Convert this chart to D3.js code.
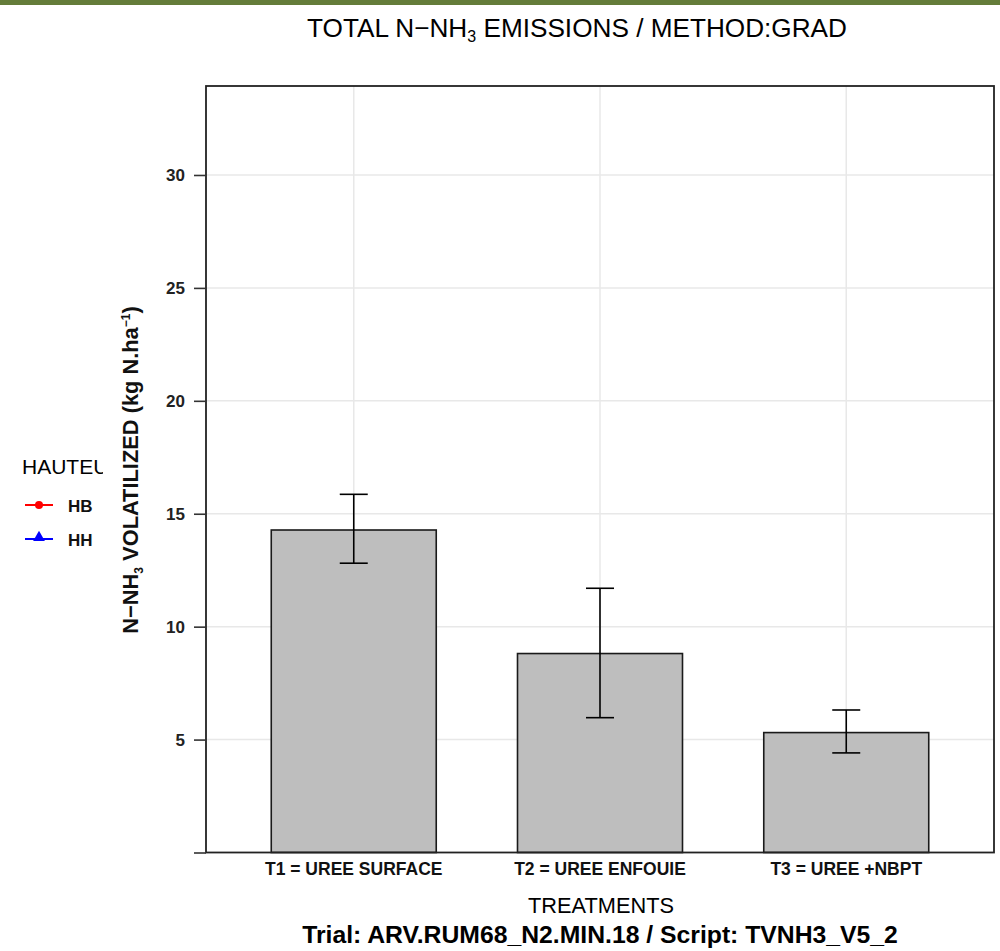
<!DOCTYPE html>
<html>
<head>
<meta charset="utf-8">
<script src="https://cdn.jsdelivr.net/npm/d3@7"></script>
<style>
  body { margin: 0; background: #fff; }
  svg { display: block; font-family: "Liberation Sans", Arial, sans-serif; }
</style>
</head>
<body>
<svg id="chart" width="1000" height="951"></svg>
<script>
// data
const treatments = ['T1 = UREE SURFACE', 'T2 = UREE ENFOUIE', 'T3 = UREE +NBPT'];
const totals = [14.28, 8.81, 5.31];
const errLow = [12.81, 5.97, 4.41];
const errHigh = [15.86, 11.70, 6.31];
const yTicks = [0, 5, 10, 15, 20, 25, 30];
const legendKeys = ['HB', 'HH'];
const legendColors = ['#ff0000', '#0000ff'];

const svg = d3.select('#chart');
const W = 1000, H = 951;
const panel = { left: 206, right: 994, top: 86, bottom: 852.5 };
const narrow = '"Liberation Sans Narrow", "Arial Narrow", "Liberation Sans", sans-serif';

// shrink/grow a text so it spans the wanted width
function fitText(sel, width) {
    const fs = parseFloat(sel.style('font-size'));
    const w = sel.node().getComputedTextLength();
    sel.style('font-size', (fs * width / w) + 'px');
}

// green strip on top
svg.append('rect').attr('x', 0).attr('y', 0).attr('width', W).attr('height', 5)
    .attr('fill', '#647c3a');

// scales
const x = d3.scalePoint().domain(treatments).range([panel.left, panel.right]).padding(0.6);
const y = d3.scaleLinear().domain([0, 33.94]).range([panel.bottom, panel.top]);
const barW = x.step() * 0.67;

// panel background + grid
svg.append('rect')
    .attr('x', panel.left).attr('y', panel.top)
    .attr('width', panel.right - panel.left).attr('height', panel.bottom - panel.top)
    .attr('fill', '#fff');

svg.append('g').selectAll('line.hgrid')
    .data(yTicks.filter(d => d > 0))
    .join('line')
    .attr('x1', panel.left).attr('x2', panel.right)
    .attr('y1', d => y(d)).attr('y2', d => y(d))
    .attr('stroke', '#e8e8e8').attr('stroke-width', 1.5);

svg.append('g').selectAll('line.vgrid')
    .data(treatments)
    .join('line')
    .attr('x1', d => x(d)).attr('x2', d => x(d))
    .attr('y1', panel.top).attr('y2', panel.bottom)
    .attr('stroke', '#e8e8e8').attr('stroke-width', 1.5);

// bars
svg.append('g').selectAll('rect')
    .data(treatments)
    .join('rect')
    .attr('x', d => x(d) - barW / 2)
    .attr('y', (d, i) => y(totals[i]))
    .attr('width', barW)
    .attr('height', (d, i) => y(0) - y(totals[i]))
    .attr('fill', '#bebebe')
    .attr('stroke', '#1a1a1a')
    .attr('stroke-width', 1.6);

// error bars
const eb = svg.append('g').attr('stroke', '#000').attr('stroke-width', 1.6);
treatments.forEach((t, i) => {
    const cx = x(t);
    eb.append('line').attr('x1', cx).attr('x2', cx).attr('y1', y(errLow[i])).attr('y2', y(errHigh[i]));
    eb.append('line').attr('x1', cx - 14).attr('x2', cx + 14).attr('y1', y(errHigh[i])).attr('y2', y(errHigh[i]));
    eb.append('line').attr('x1', cx - 14).attr('x2', cx + 14).attr('y1', y(errLow[i])).attr('y2', y(errLow[i]));
});

// panel border
svg.append('rect')
    .attr('x', panel.left).attr('y', panel.top)
    .attr('width', panel.right - panel.left).attr('height', panel.bottom - panel.top)
    .attr('fill', 'none').attr('stroke', '#222').attr('stroke-width', 1.8);

// y axis
const yAxis = svg.append('g')
    .attr('transform', `translate(${panel.left},0)`)
    .call(d3.axisLeft(y).tickValues(yTicks).tickSize(12).tickPadding(9).tickSizeOuter(0)
        .tickFormat(d => d === 0 ? '' : d));
yAxis.select('.domain').remove();
yAxis.selectAll('.tick line').attr('stroke', '#333').attr('stroke-width', 1.6);
yAxis.selectAll('.tick text')
    .style('font-family', '"Liberation Sans", Arial, sans-serif')
    .style('font-size', '17px').style('font-weight', 'bold').attr('fill', '#222');

// category labels
svg.append('g').selectAll('text')
    .data(treatments)
    .join('text')
    .attr('x', d => x(d)).attr('y', 875)
    .attr('text-anchor', 'middle')
    .style('font-size', '17.5px').style('font-weight', 'bold').attr('fill', '#111')
    .text(d => d);

// title
const title = svg.append('text')
    .attr('x', 577).attr('y', 37).attr('text-anchor', 'middle')
    .style('font-family', narrow)
    .style('font-size', '24px').attr('fill', '#000');
title.append('tspan').text('TOTAL N\u2212NH');
title.append('tspan').attr('dy', 5).style('font-size', '16px').text('3');
title.append('tspan').attr('dy', -5).text(' EMISSIONS / METHOD:GRAD');
fitText(title, 541);

// y label
const ylab = svg.append('text')
    .attr('transform', 'translate(138,470) rotate(-90)')
    .attr('text-anchor', 'middle')
    .style('font-size', '18px').style('font-weight', 'bold').attr('fill', '#111');
ylab.append('tspan').text('N\u2212NH');
ylab.append('tspan').attr('dy', 5).style('font-size', '12px').text('3');
ylab.append('tspan').attr('dy', -5).text(' VOLATILIZED (kg N.ha');
ylab.append('tspan').attr('dy', -8).style('font-size', '12px').text('\u22121');
ylab.append('tspan').attr('dy', 8).text(')');
fitText(ylab, 332);

// x label and trial line
const xlab = svg.append('text')
    .attr('x', 601).attr('y', 913).attr('text-anchor', 'middle')
    .style('font-family', narrow)
    .style('font-size', '20px').attr('fill', '#000')
    .text('TREATMENTS');
fitText(xlab, 146);

const trial = svg.append('text')
    .attr('x', 600).attr('y', 943).attr('text-anchor', 'middle')
    .style('font-family', narrow)
    .style('font-size', '19px').style('font-weight', 'bold').attr('fill', '#000')
    .text('Trial: ARV.RUM68_N2.MIN.18  /  Script: TVNH3_V5_2');
fitText(trial, 596);

// legend (title cut off at the left edge of the plot region)
svg.append('clipPath').attr('id', 'legclip')
    .append('rect').attr('x', 0).attr('y', 440).attr('width', 103).attr('height', 40);
svg.append('text')
    .attr('x', 22).attr('y', 474)
    .attr('clip-path', 'url(#legclip)')
    .style('font-size', '21px').attr('fill', '#000')
    .text('HAUTEUR');

const leg = svg.append('g').selectAll('g')
    .data(legendKeys)
    .join('g')
    .attr('transform', (d, i) => `translate(0,${505 + i * 34})`);
leg.append('line')
    .attr('x1', 25).attr('x2', 53)
    .attr('stroke', (d, i) => legendColors[i]).attr('stroke-width', 2);
leg.filter((d, i) => i === 0).append('circle')
    .attr('cx', 39).attr('r', 4).attr('fill', legendColors[0]);
leg.filter((d, i) => i === 1).append('path')
    .attr('transform', 'translate(39,-1.5)')
    .attr('d', d3.symbol(d3.symbolTriangle, 60))
    .attr('fill', legendColors[1]);
leg.append('text')
    .attr('x', 68).attr('y', 7)
    .style('font-size', '17px').style('font-weight', 'bold').attr('fill', '#111')
    .text(d => d);
</script>
</body>
</html>
